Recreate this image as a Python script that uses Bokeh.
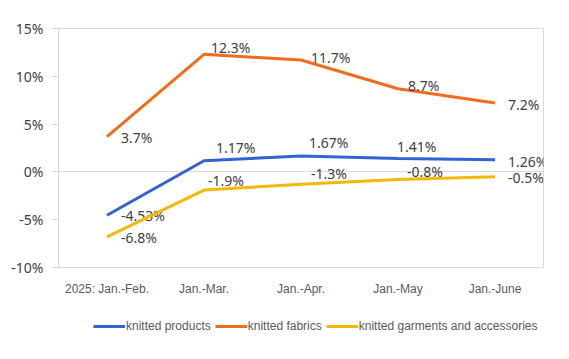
from bokeh.plotting import figure
from bokeh.layouts import column
from bokeh.models import (FactorRange, Range1d, FixedTicker, PrintfTickFormatter,
                          ColumnDataSource, Legend, LegendItem)
from bokeh.core.properties import value
from bokeh.embed import file_html
from bokeh.resources import INLINE

# ---- data ----
periods = ["2025: Jan.-Feb.", "Jan.-Mar.", "Jan.-Apr.", "Jan.-May", "Jan.-June"]
knitted_products = [-4.53, 1.17, 1.67, 1.41, 1.26]
knitted_fabrics = [3.7, 12.3, 11.7, 8.7, 7.2]
knitted_garments = [-6.8, -1.9, -1.3, -0.8, -0.5]
products_labels = ["-4.53%", "1.17%", "1.67%", "1.41%", "1.26%"]
fabrics_labels = ["3.7%", "12.3%", "11.7%", "8.7%", "7.2%"]
garments_labels = ["-6.8%", "-1.9%", "-1.3%", "-0.8%", "-0.5%"]
y_ticks = [-10, -5, 0, 5, 10, 15]

# ---- styles (label placement in screen px; positive dy = downwards) ----
series = [
    ("knitted products", knitted_products, products_labels, "#3362D2",
     [14, 12, 8, -1, 13], [0, -13, -13, -12, 1.5]),
    ("knitted fabrics", knitted_fabrics, fabrics_labels, "#F06C1E",
     [14, 7, 10, 10, 13], [1, -7, -3, -3, 1]),
    ("knitted garments and accessories", knitted_garments, garments_labels, "#F5B80A",
     [14, 4, 10, 9, 13], [1, -10, -11, -8, 1]),
]

p = figure(x_range=FactorRange(*periods, range_padding=0), y_range=Range1d(-10, 15),
           width=561, height=300, output_backend="svg", toolbar_location=None,
           min_border_left=58, min_border_right=18, min_border_top=28, min_border_bottom=33)

p.outline_line_color = "#d9d9d9"
p.outline_line_width = 1
p.background_fill_color = "white"
p.border_fill_color = "white"

p.xgrid.grid_line_color = None
p.ygrid.ticker = FixedTicker(ticks=[0])
p.ygrid.grid_line_color = "#d9d9d9"

p.yaxis.ticker = FixedTicker(ticks=y_ticks)
p.yaxis.formatter = PrintfTickFormatter(format="%d%%")
p.yaxis.axis_line_color = None
p.yaxis.major_tick_line_color = "#d9d9d9"
p.yaxis.major_tick_out = 6
p.yaxis.major_tick_in = 0
p.yaxis.minor_tick_line_color = None
p.yaxis.major_label_standoff = 9
p.yaxis.major_label_text_font = "Noto Sans"
p.yaxis.major_label_text_font_size = "14px"
p.yaxis.major_label_text_color = "#404040"

p.xaxis.axis_line_color = None
p.xaxis.major_tick_line_color = None
p.xaxis.major_tick_out = 0
p.xaxis.major_label_standoff = 14
p.xaxis.major_label_text_font = "Liberation Sans"
p.xaxis.major_label_text_font_size = "12px"
p.xaxis.major_label_text_color = "#595959"

# legend strip (second figure; its line copies lie outside its visible range)
lg = figure(x_range=FactorRange(*periods, range_padding=0), y_range=Range1d(1000, 1001),
            width=561, height=51, output_backend="svg", toolbar_location=None,
            x_axis_type=None, y_axis_type=None,
            min_border_left=0, min_border_right=0, min_border_top=0, min_border_bottom=0)
lg.outline_line_color = None
lg.xgrid.grid_line_color = None
lg.ygrid.grid_line_color = None

items = []
for name, vals, labels, color, dx, dy in series:
    src = ColumnDataSource(dict(x=periods, y=vals, t=labels, dx=dx, dy=dy))
    p.line("x", "y", source=src, line_color=color, line_width=3)
    p.text("x", "y", text="t", source=src, x_offset="dx", y_offset="dy",
           text_font=value("Noto Sans"), text_font_size="14px",
           text_color="#404040", text_baseline="middle", text_align="left")
    r = lg.line("x", "y", source=src, line_color=color, line_width=3)
    items.append(LegendItem(label=name, renderers=[r]))

legend = Legend(items=items, orientation="horizontal", location=(35, 18),
                glyph_width=32, glyph_height=12, label_standoff=1, spacing=4,
                padding=0, margin=0, border_line_color=None,
                background_fill_alpha=0,
                label_text_font="Liberation Sans", label_text_font_size="12px",
                label_text_color="#595959")
lg.add_layout(legend, "center")

layout = column(p, lg, spacing=0)
open("out.html", "w").write(file_html(layout, INLINE))
